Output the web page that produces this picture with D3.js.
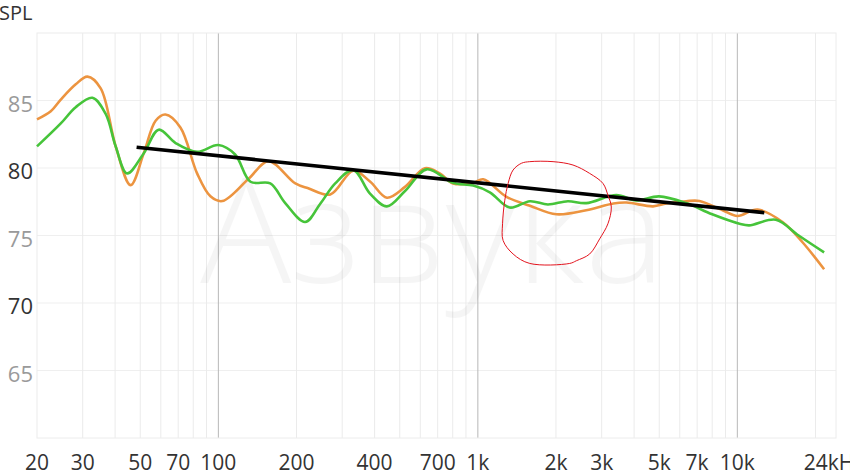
<!DOCTYPE html>
<html>
<head>
<meta charset="utf-8">
<script src="https://cdn.jsdelivr.net/npm/d3@7"></script>
<style>
  html, body { margin: 0; padding: 0; background: #fff; }
  #chart svg { display: block; }
</style>
</head>
<body>
<div id="chart"></div>
<script>
// frequency ticks along the bottom
const freqTicks = [20, 30, 50, 70, 100, 200, 400, 700, 1000, 2000, 3000, 5000, 7000, 10000, 24000]
const freqLabels = ["20", "30", "50", "70", "100", "200", "400", "700", "1k", "2k", "3k", "5k", "7k", "10k", "24kHz"]
const majorFreqs = [100, 1000, 10000]
const splTicks = [65, 70, 75, 80, 85]
const darkSplTicks = [70, 80]

// orange curve
const orangeFreq = [20, 22.6, 24.7, 28.2, 31.3, 35.2, 40.2, 45.9, 51.6, 57.3, 62.5, 71.4, 82.8, 93.2, 103.6, 130.8, 156, 198, 222, 270, 331, 384, 446, 524, 625, 713, 802, 960, 1049, 1290, 1588, 2008, 2616, 3330, 3740, 4730, 5320, 6350, 7140, 8770, 10010, 11970, 14930, 17830, 21600]
const orangeSpl = [83.6, 84.2, 85.07, 86.2, 86.77, 85.9, 81.6, 78.73, 81.1, 83.5, 83.96, 83.0, 79.6, 77.9, 77.55, 79.2, 80.5, 78.86, 78.5, 78.04, 79.8, 79.0, 77.8, 78.6, 79.98, 79.6, 78.86, 78.9, 79.16, 77.86, 77.2, 76.57, 76.87, 77.37, 77.44, 77.16, 77.37, 77.54, 77.56, 76.87, 76.45, 76.92, 76.0, 74.5, 72.5]

// green curve
const greenFreq = [20, 24.7, 28.2, 32.7, 36.8, 40.2, 44.5, 51.6, 58.9, 68.4, 82.8, 100, 116, 133, 158.5, 181, 216, 247, 282, 331, 384, 446, 524, 635, 802, 960, 1112, 1327, 1588, 1862, 2222, 2616, 3419, 4066, 4992, 6350, 8000, 10200, 11100, 14070, 17230, 21600]
const greenSpl = [81.6, 83.3, 84.5, 85.2, 84.0, 81.6, 79.6, 81.1, 82.84, 81.85, 81.2, 81.7, 81.0, 78.98, 78.86, 77.4, 76.0, 77.35, 78.86, 79.85, 78.1, 77.16, 78.3, 79.9, 78.9, 78.7, 78.2, 77.07, 77.54, 77.3, 77.54, 77.4, 78.0, 77.6, 77.9, 77.4, 76.57, 75.87, 75.75, 76.17, 75.0, 73.75]

// hand drawn trend line
const trendFreq = [48.4, 12700]
const trendSpl = [81.54, 76.69]

// hand drawn red ring
const ringFreq = [1585, 1949, 2326, 2697, 3034, 3171, 3268, 3171, 2947, 2697, 2397, 2259, 1585, 1367, 1251, 1245, 1270, 1308, 1367, 1472]
const ringSpl = [80.47, 80.47, 80.22, 79.6, 78.86, 77.99, 77.11, 75.87, 74.75, 73.63, 73.13, 72.93, 72.93, 73.63, 74.63, 75.87, 77.61, 78.86, 79.85, 80.35]

function drawChart() {
  let dimensions = {
    width: 850,
    height: 476,
    margin: {
      top: 33,
      right: 14,
      bottom: 38,
      left: 37,
    },
  }
  dimensions.boundedWidth = dimensions.width
    - dimensions.margin.left
    - dimensions.margin.right
  dimensions.boundedHeight = dimensions.height
    - dimensions.margin.top
    - dimensions.margin.bottom

  const svg = d3.select("#chart")
    .append("svg")
      .attr("width", dimensions.width)
      .attr("height", dimensions.height)
      .style("font-family", "'Open Sans', sans-serif")

  const bounds = svg.append("g")
    .attr("transform", `translate(${dimensions.margin.left}, ${dimensions.margin.top})`)

  const xScale = d3.scaleLog()
    .domain([20, 24000])
    .range([0, dimensions.boundedWidth])

  const yScale = d3.scaleLinear()
    .domain([60, 90])
    .range([dimensions.boundedHeight, 0])

  // all the 1-2-3..9 gridlines per decade
  const gridFreqs = []
  for (let dec = 10; dec <= 10000; dec *= 10) {
    for (let m = 1; m <= 9; m++) {
      const f = dec * m
      if (f > 20 && f < 24000) gridFreqs.push(f)
    }
  }
  gridFreqs.push(20000)

  bounds.append("g")
    .selectAll("line")
    .data(splTicks)
    .join("line")
      .attr("x1", 0)
      .attr("x2", dimensions.boundedWidth)
      .attr("y1", d => yScale(d))
      .attr("y2", d => yScale(d))
      .attr("stroke", "#efefef")

  bounds.append("g")
    .selectAll("line")
    .data(gridFreqs)
    .join("line")
      .attr("x1", d => xScale(d))
      .attr("x2", d => xScale(d))
      .attr("y1", 0)
      .attr("y2", dimensions.boundedHeight)
      .attr("stroke", d => majorFreqs.includes(d) ? "#b8b8b8" : "#ebebeb")

  // frame
  bounds.append("rect")
    .attr("width", dimensions.boundedWidth)
    .attr("height", dimensions.boundedHeight)
    .attr("fill", "none")
    .attr("stroke", "#ececec")

  // watermark
  bounds.append("text")
    .attr("x", xScale(1000) - 45)
    .attr("y", yScale(71.5))
    .attr("text-anchor", "middle")
    .attr("font-size", 146)
    .attr("font-weight", 300)
    .attr("fill", "#000")
    .attr("opacity", 0.035)
    .attr("textLength", 465)
    .attr("lengthAdjust", "spacingAndGlyphs")
    .text("Азвука")

  const lineGen = d3.line()
    .x(d => xScale(d[0]))
    .y(d => yScale(d[1]))
    .curve(d3.curveCatmullRom.alpha(0.5))

  const orangeData = d3.zip(orangeFreq, orangeSpl)
  const greenData = d3.zip(greenFreq, greenSpl)

  bounds.append("path")
    .datum(orangeData)
    .attr("d", lineGen)
    .attr("fill", "none")
    .attr("stroke", "#ec9440")
    .attr("stroke-width", 2.6)

  bounds.append("path")
    .datum(greenData)
    .attr("d", lineGen)
    .attr("fill", "none")
    .attr("stroke", "#46c43a")
    .attr("stroke-width", 2.6)

  bounds.append("path")
    .datum(d3.zip(trendFreq, trendSpl))
    .attr("d", d3.line().x(d => xScale(d[0])).y(d => yScale(d[1])))
    .attr("fill", "none")
    .attr("stroke", "#000")
    .attr("stroke-width", 3.6)

  bounds.append("path")
    .datum(d3.zip(ringFreq, ringSpl))
    .attr("d", d3.line()
      .x(d => xScale(d[0]))
      .y(d => yScale(d[1]))
      .curve(d3.curveCatmullRomClosed))
    .attr("fill", "none")
    .attr("stroke", "#e3141e")
    .attr("stroke-width", 1)

  // y labels
  bounds.append("g")
    .selectAll("text")
    .data(splTicks)
    .join("text")
      .attr("x", -4)
      .attr("y", d => yScale(d) + 11)
      .attr("text-anchor", "end")
      .attr("font-size", 22)
      .attr("fill", d => darkSplTicks.includes(d) ? "#333" : "#9a9a9a")
      .text(d => d)

  // x labels
  bounds.append("g")
    .selectAll("text")
    .data(freqTicks)
    .join("text")
      .attr("x", (d, i) => xScale(d) + (i == freqTicks.length - 1 ? 28 : 0))
      .attr("y", dimensions.boundedHeight + 32)
      .attr("text-anchor", (d, i) => i == freqTicks.length - 1 ? "end" : "middle")
      .attr("font-size", 21)
      .attr("fill", "#333")
      .text((d, i) => freqLabels[i])

  svg.append("text")
    .attr("x", -1)
    .attr("y", 20)
    .attr("font-size", 20)
    .attr("fill", "#333")
    .text("SPL")
}
drawChart()
</script>
</body>
</html>
